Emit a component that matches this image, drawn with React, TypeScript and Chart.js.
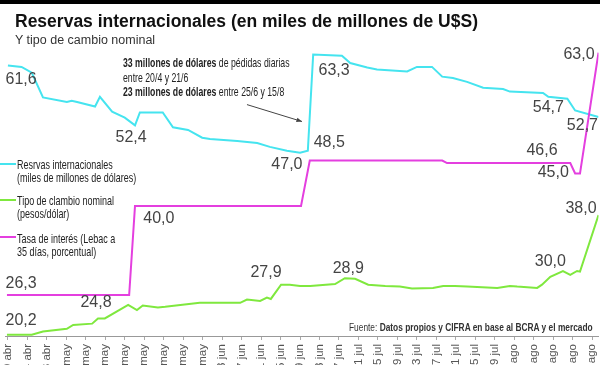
import React, { useEffect, useRef } from "react";
import { Chart, registerables } from "chart.js";
Chart.register(...registerables);

// Eje X: etiquetas cada 4 días
const etiquetasEje = [
  "20 abr", "24 abr", "28 abr", "2 may", "6 may", "10 may", "14 may", "18 may", "22 may", "26 may", "30 may",
  "3 jun", "7 jun", "11 jun", "15 jun", "19 jun", "23 jun", "27 jun",
  "1 jul", "5 jul", "9 jul", "13 jul", "17 jul", "21 jul", "25 jul", "29 jul",
  "2 ago", "6 ago", "10 ago", "14 ago", "18 ago",
];
const diasEje = [0, 4, 8, 12, 16, 20, 24, 28, 32, 36, 40, 44, 48, 52, 56, 60, 64, 68, 72, 76, 80, 84, 88, 92, 96, 100, 104, 108, 112, 116, 120];

// Reservas internacionales (miles de millones de US$)
const reservasDias = [0, 2.8, 4.9, 7.2, 12.1, 13.1, 14.2, 17.9, 18.9, 21.4, 24.0, 26.1, 27.1, 31.8, 33.9, 37.0, 39.9, 41.5, 47.1, 51.2, 53.8, 57.3, 60.0, 61.6, 62.7, 68.6, 70.3, 73.8, 75.8, 82.0, 84.0, 87.1, 89.2, 91.4, 94.3, 97.6, 101.7, 103.1, 109.9, 111.0, 114.9, 116.5, 121.3];
const reservasValores = [61.6, 61.4, 60.5, 56.7, 56.0, 56.2, 56.0, 55.3, 56.8, 54.5, 53.6, 52.4, 54.4, 54.4, 52.1, 51.7, 50.5, 50.3, 50.0, 49.7, 49.1, 48.5, 48.2, 48.5, 63.3, 63.1, 62.0, 61.3, 61.0, 60.7, 61.4, 61.4, 59.9, 59.7, 59.1, 58.2, 58.0, 57.6, 57.4, 56.8, 56.5, 54.7, 53.7];

// Tipo de cambio nominal (pesos/dólar)
const cambioDias = [-0.2, 4.9, 7.2, 12.1, 13.4, 17.3, 18.5, 19.9, 24.7, 26.5, 27.7, 30.8, 32.3, 39.4, 47.7, 49.1, 51.8, 53.2, 54.0, 56.1, 57.9, 60.0, 62.1, 67.2, 69.2, 71.3, 74.0, 77.5, 80.5, 83.0, 87.3, 89.4, 91.8, 94.3, 100.5, 103.1, 104.6, 108.7, 109.7, 111.4, 114.0, 115.5, 116.9, 117.5, 121.3];
const cambioValores = [20.2, 20.2, 20.7, 21.1, 21.7, 21.9, 22.7, 22.7, 24.8, 24.0, 24.7, 24.4, 24.5, 25.1, 25.1, 25.6, 25.4, 25.9, 25.7, 27.9, 27.9, 27.7, 27.7, 28.0, 28.9, 28.8, 27.9, 27.7, 27.6, 27.3, 27.4, 27.7, 27.7, 27.6, 27.4, 27.7, 27.6, 27.4, 27.9, 29.1, 30.0, 29.4, 30.0, 29.9, 38.6];

// Tasa de interés (Lebac a 35 días, %)
const tasaDias = [-0.2, 24.9, 26.1, 60.2, 62.0, 89.2, 90.2, 115.5, 116.5, 117.5, 121.3];
const tasaValores = [26.3, 26.3, 40.0, 40.0, 47.0, 47.0, 46.6, 46.6, 45.0, 45.0, 63.6];

// Etiquetas de valores (texto y posición en el espacio de datos)
const etiquetasTexto = ["61,6", "52,4", "26,3", "20,2", "24,8", "40,0", "27,9", "47,0", "48,5", "63,3", "28,9", "46,6", "54,7", "45,0", "52,7", "63,0", "30,0", "38,0"];
const etiquetasDia = [2.7, 25.3, 2.7, 2.7, 18.1, 31.0, 53.0, 57.3, 66.0, 67.0, 69.9, 109.7, 111.0, 112.0, 118.0, 117.3, 111.4, 117.7];
const etiquetasValor = [59.4, 50.6, 28.0, 22.4, 25.1, 38.0, 29.7, 46.3, 49.7, 60.8, 30.4, 48.5, 55.1, 45.1, 52.3, 63.3, 31.4, 39.6];

// Flecha de la anotación (día, valor)
const flechaDesde = [49.1, 55.6];
const flechaHasta = [60.4, 53.0];

const CIAN = "#45e4ef";
const VERDE = "#7fe83e";
const ROSA = "#e43fdf";

const sans = '"Liberation Sans", Arial, sans-serif';

export default function App() {
  const ref = useRef<HTMLCanvasElement>(null);
  useEffect(() => {
    const canvas = ref.current!;
    const etiquetasPlugin = {
      id: "etiquetas",
      afterDatasetsDraw(chart: any) {
        const { ctx } = chart;
        const x = chart.scales.x;
        const y = chart.scales.y;
        ctx.save();
        ctx.font = '16px "Liberation Sans", Arial, sans-serif';
        ctx.fillStyle = "#444";
        ctx.textAlign = "center";
        ctx.textBaseline = "middle";
        etiquetasTexto.forEach((t, i) => {
          ctx.fillText(t, x.getPixelForValue(etiquetasDia[i]), y.getPixelForValue(etiquetasValor[i]));
        });
        const x1 = x.getPixelForValue(flechaDesde[0]);
        const y1 = y.getPixelForValue(flechaDesde[1]);
        const x2 = x.getPixelForValue(flechaHasta[0]);
        const y2 = y.getPixelForValue(flechaHasta[1]);
        ctx.strokeStyle = "#444";
        ctx.fillStyle = "#444";
        ctx.lineWidth = 1;
        ctx.beginPath();
        ctx.moveTo(x1, y1);
        ctx.lineTo(x2, y2);
        ctx.stroke();
        const a = Math.atan2(y2 - y1, x2 - x1);
        ctx.beginPath();
        ctx.moveTo(x2, y2);
        ctx.lineTo(x2 - 6 * Math.cos(a - 0.4), y2 - 6 * Math.sin(a - 0.4));
        ctx.lineTo(x2 - 6 * Math.cos(a + 0.4), y2 - 6 * Math.sin(a + 0.4));
        ctx.closePath();
        ctx.fill();
        ctx.restore();
      },
    };
    const mk = (d: number[], v: number[]) => d.map((dd, i) => ({ x: dd, y: v[i] }));
    const chart = new Chart(canvas, {
      type: "line",
      data: {
        datasets: [
          { label: "Tasa", data: mk(tasaDias, tasaValores), borderColor: ROSA, borderWidth: 2 },
          { label: "Cambio", data: mk(cambioDias, cambioValores), borderColor: VERDE, borderWidth: 2 },
          { label: "Reservas", data: mk(reservasDias, reservasValores), borderColor: CIAN, borderWidth: 2 },
        ],
      },
      options: {
        responsive: false,
        animation: false,
        layout: { padding: { top: 50, left: 5, right: 1.5, bottom: 0 } },
        plugins: { legend: { display: false }, tooltip: { enabled: false }, title: { display: false } },
        elements: { point: { radius: 0 }, line: { tension: 0 } },
        scales: {
          x: {
            type: "linear",
            min: -0.6,
            max: 121.3,
            afterBuildTicks: (s: any) => {
              s.ticks = diasEje.map((v) => ({ value: v }));
            },
            afterFit: (s: any) => {
              s.height = 44;
              s.paddingLeft = 0;
              s.paddingRight = 0;
            },
            ticks: {
              autoSkip: false,
              minRotation: 90,
              maxRotation: 90,
              padding: 4,
              color: "#555",
              font: { size: 11.5, family: sans },
              callback: (_v: any, i: number) => etiquetasEje[i],
            },
            grid: { drawOnChartArea: false, drawTicks: true, tickLength: 4, color: "#aaa" },
            border: { display: true, color: "#999", width: 1 },
          },
          y: { display: false, min: 20, max: 64 },
        },
      },
      plugins: [etiquetasPlugin],
    } as any);
    return () => chart.destroy();
  }, []);

  const txt: React.CSSProperties = { position: "absolute", whiteSpace: "nowrap", color: "#222" };
  const legLine = (top: number, color: string): React.CSSProperties => ({
    position: "absolute", left: 0, top, width: 16, height: 2, background: color,
  });
  const legTxt: React.CSSProperties = {
    ...txt, left: 17, fontFamily: sans, fontSize: 13, lineHeight: "13px",
    transform: "scaleX(0.69)", transformOrigin: "left top",
  };

  return (
    <div style={{ position: "absolute", left: 0, top: 0, width: 600, height: 365, overflow: "hidden", background: "#fff" }}>
      <canvas ref={ref} width={600} height={380} style={{ position: "absolute", left: 0, top: 0, display: "block" }} />
      <div style={{ position: "absolute", left: 0, top: 0, width: 600, height: 4, background: "#000" }} />
      <div style={{ ...txt, left: 15, top: 13, fontFamily: sans, fontWeight: 700, fontSize: 17.5, lineHeight: 1, color: "#111" }}>
        Reservas internacionales (en miles de millones de U$S)
      </div>
      <div style={{ ...txt, left: 15, top: 34, fontFamily: sans, fontSize: 12.5, lineHeight: 1, color: "#333" }}>
        Y tipo de cambio nominal
      </div>
      <div style={{ ...txt, left: 123, top: 56, fontFamily: sans, fontSize: 13, lineHeight: "14.7px", transform: "scaleX(0.67)", transformOrigin: "left top" }}>
        <div><b>33 millones de dólares</b> de pédidas diarias</div>
        <div>entre 20/4 y 21/6</div>
        <div><b>23 millones de dólares</b> entre 25/6 y 15/8</div>
      </div>
      <div style={legLine(163, CIAN)} />
      <div style={{ ...legTxt, top: 157.5 }}>Resrvas internacionales<br />(miles de millones de dólares)</div>
      <div style={legLine(199, VERDE)} />
      <div style={{ ...legTxt, top: 193.5 }}>Tipo de clambio nominal<br />(pesos/dólar)</div>
      <div style={legLine(236, ROSA)} />
      <div style={{ ...legTxt, top: 231.5 }}>Tasa de interés (Lebac a<br />35 días, porcentual)</div>
      <div style={{ ...txt, right: 7, top: 321, fontFamily: sans, fontSize: 11, lineHeight: "12px", color: "#333", transform: "scaleX(0.76)", transformOrigin: "right top" }}>
        Fuente: <b>Datos propios y CIFRA en base al BCRA y el mercado</b>
      </div>
    </div>
  );
}
